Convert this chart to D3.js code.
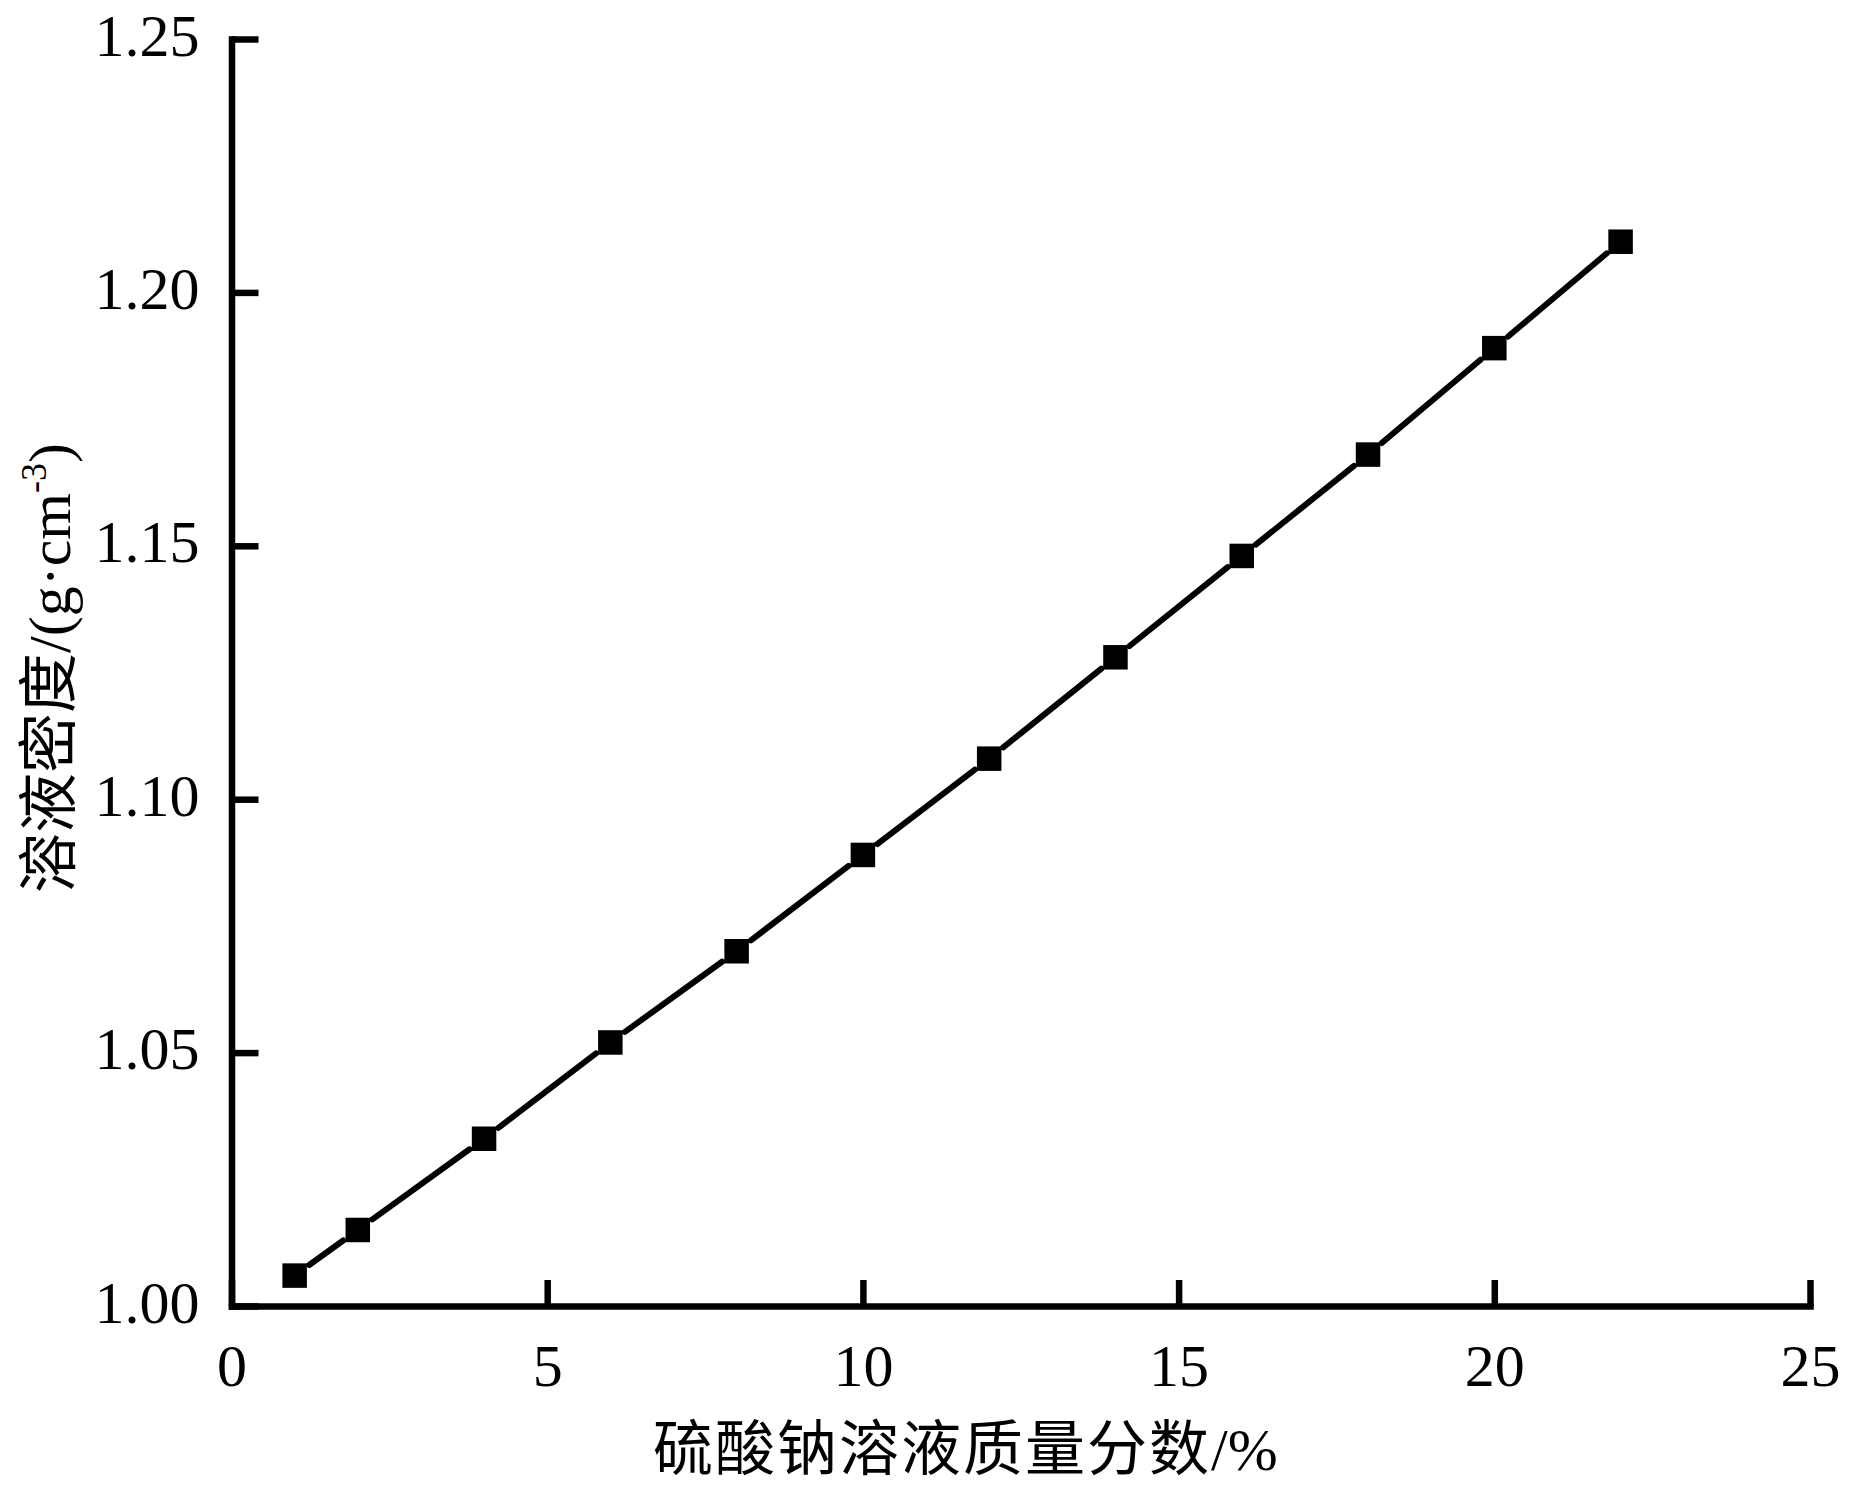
<!DOCTYPE html>
<html>
<head>
<meta charset="utf-8">
<script src="https://cdn.jsdelivr.net/npm/d3@7"></script>
<style>
  html, body { margin: 0; padding: 0; background: #fff; }
  svg { display: block; }
</style>
</head>
<body>
<svg id="chart" width="1851" height="1486"></svg>
<script>
// ---- data ----
const massFraction = [1, 2, 4, 6, 8, 10, 12, 14, 16, 18, 20, 22];
const density = [1.006, 1.015, 1.033, 1.052, 1.070, 1.089, 1.108, 1.128, 1.148, 1.168, 1.189, 1.210];
const xTicks = [0, 5, 10, 15, 20, 25];
const yTicks = [1.00, 1.05, 1.10, 1.15, 1.20, 1.25];
const xLabel = "硫酸钠溶液质量分数/%";
const yLabelMain = "溶液密度/(g·cm";
const yLabelSup = "-3";
const yLabelEnd = ")";

// ---- layout ----
const svg = d3.select("#chart");
const latin = "'Liberation Serif', 'Times New Roman', serif";
const cjk = "'Noto Sans CJK SC', 'Liberation Serif', serif";

const x = d3.scaleLinear().domain([0, 25]).range([231.5, 1810]);
const y = d3.scaleLinear().domain([1.00, 1.25]).range([1306, 39]);

const axisW = 6.5;

// X axis
const gx = svg.append("g").attr("transform", `translate(0,${y(1.00)})`)
  .call(d3.axisBottom(x).tickValues(xTicks).tickSizeInner(-26).tickSizeOuter(0).tickFormat(d3.format("d")));
gx.select(".domain").attr("stroke", "#000").attr("stroke-width", axisW).attr("stroke-linecap", "square");
gx.selectAll(".tick line").attr("stroke", "#000").attr("stroke-width", axisW);
gx.selectAll(".tick text")
  .attr("y", 80).attr("dy", null)
  .attr("font-family", latin).attr("font-size", 60).attr("fill", "#000");

// Y axis
const gy = svg.append("g").attr("transform", `translate(${x(0)},0)`)
  .call(d3.axisLeft(y).tickValues(yTicks).tickSizeInner(-27).tickSizeOuter(0).tickFormat(d3.format(".2f")));
gy.select(".domain").attr("stroke", "#000").attr("stroke-width", axisW).attr("stroke-linecap", "square");
gy.selectAll(".tick line").attr("stroke", "#000").attr("stroke-width", axisW);
gy.selectAll(".tick text")
  .attr("x", -32).attr("dy", null).attr("y", 16)
  .attr("text-anchor", "end")
  .attr("font-family", latin).attr("font-size", 60).attr("fill", "#000");

// Line segments (with gaps around markers)
const pts = massFraction.map((d, i) => [x(d), y(density[i])]);
const gap = 18;
const segs = [];
for (let i = 0; i < pts.length - 1; i++) {
  const [x1, y1] = pts[i], [x2, y2] = pts[i + 1];
  const L = Math.hypot(x2 - x1, y2 - y1);
  const ux = (x2 - x1) / L, uy = (y2 - y1) / L;
  segs.push([x1 + ux * gap, y1 + uy * gap, x2 - ux * gap, y2 - uy * gap]);
}
svg.append("g").selectAll("line").data(segs).join("line")
  .attr("x1", d => d[0]).attr("y1", d => d[1])
  .attr("x2", d => d[2]).attr("y2", d => d[3])
  .attr("stroke", "#000").attr("stroke-width", 6).attr("stroke-linecap", "round");

// Markers
const ms = 24.5;
svg.append("g").selectAll("rect").data(massFraction).join("rect")
  .attr("x", d => x(d) - ms / 2)
  .attr("y", (d, i) => y(density[i]) - ms / 2)
  .attr("width", ms).attr("height", ms)
  .attr("fill", "#000");

// X label
svg.append("text")
  .attr("x", 653).attr("y", 1470)
  .attr("font-family", cjk).attr("font-size", 60).attr("fill", "#000")
  .attr("letter-spacing", 2)
  .text(xLabel.slice(0, -2))
  .append("tspan").attr("font-family", latin).attr("letter-spacing", 0).text(xLabel.slice(-2));

// Y label
const yl = svg.append("text")
  .attr("transform", "translate(70,668) rotate(-90)")
  .attr("text-anchor", "middle")
  .attr("font-family", cjk).attr("font-size", 60).attr("fill", "#000");
yl.append("tspan").text(yLabelMain.slice(0, 4));
yl.append("tspan").attr("font-family", latin).attr("font-size", 60).text(yLabelMain.slice(4));
yl.append("tspan").attr("font-family", latin).attr("font-size", 36).attr("dy", -24).text(yLabelSup);
yl.append("tspan").attr("font-family", latin).attr("font-size", 60).attr("dy", 24).text(yLabelEnd);
</script>
</body>
</html>
